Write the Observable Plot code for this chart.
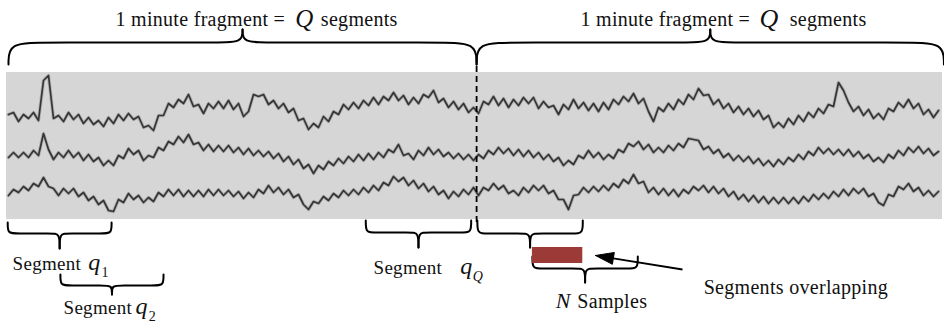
<!DOCTYPE html>
<html><head><meta charset="utf-8">
<script src="https://cdn.jsdelivr.net/npm/d3@7"></script>
<script src="https://cdn.jsdelivr.net/npm/@observablehq/plot@0.6"></script>
<style>html,body{margin:0;padding:0;background:#fff}#chart svg{display:block}</style>
</head><body><div id="chart"></div>
<script>
// ---- EEG signal (3 channels, 2 minutes, deflection in display units, negative = up) ----
const channel1 = [4,2,11,4,8,2,10,-30,-35,8,5,11,2,9,4,13,7,14,10,16,7,13,4,10,3,9,6,17,15,20,5,5,-7,-3,-11,-7,-16,-4,-6,3,-7,-2,-9,-2,-10,-1,-7,6,1,-16,-14,-16,-6,-10,-2,-7,2,-2,10,8,19,13,17,6,11,1,4,-6,-1,-8,-2,-10,-5,-13,-6,-14,-10,-18,-10,-15,-6,-13,-7,-16,-13,-20,-8,-12,-3,-9,-1,-7,2,-3,3,-9,-6,-14,-5,-12,-3,-11,-5,-13,-7,-13,-2,-9,-3,-5,4,-6,-1,-11,-2,-8,0,-7,1,-8,-1,-11,-6,-14,-9,-17,-7,-12,1,11,-3,1,-7,-1,-11,-6,-16,-11,-22,-15,-16,-6,-11,-2,-7,2,-4,4,-2,6,0,9,5,17,12,17,8,14,5,11,2,7,-2,3,-6,-4,-28,-20,-8,1,-4,5,-1,8,3,9,-2,1,-8,-3,-11,-2,-7,4,-1,7,0];
const channel2 = [2,-3,2,-3,2,-5,0,-22,-6,4,-3,2,-5,2,-3,5,-1,6,2,10,5,10,0,3,-7,-1,-5,5,0,2,-8,-5,-14,-11,-19,-13,-21,-11,-13,-5,-11,-4,-10,-4,-10,-3,-8,-1,-7,0,-5,1,-4,3,-2,6,1,9,4,13,9,18,10,14,6,10,3,8,1,6,-1,5,-2,4,-3,2,-6,-3,-11,0,-2,4,-5,0,-8,-1,-6,1,-3,3,-2,4,-1,5,-1,3,-5,-1,-8,-2,-7,0,-6,1,-5,2,-3,4,-1,6,2,10,5,9,0,3,-5,2,-3,4,-1,3,-6,-3,-12,-9,-14,-6,-11,-3,-8,-3,-10,-5,-12,-8,-17,-16,-15,-6,-9,-2,-6,2,-2,5,0,6,1,8,3,10,5,11,4,9,2,6,-1,4,-4,0,-8,-2,-7,-1,-6,0,-6,1,-4,3,-1,6,2,7,-1,3,-5,0,-8,-3,-9,-2,-7,0,-4];
const channel3 = [2,-4,-1,-7,-3,-10,-7,-16,-7,-5,2,-5,0,-5,3,-1,7,3,11,7,17,18,6,9,0,6,2,9,4,8,-1,3,-4,2,-4,3,-3,3,-3,3,-4,2,-4,2,-3,3,-2,5,-1,4,-4,0,-8,-1,-6,1,-4,4,1,11,16,8,10,3,7,0,4,-3,2,-4,1,-6,-1,-8,-3,-11,-8,-17,-12,-16,-8,-13,-5,-10,-2,-7,1,-3,5,-2,3,-4,1,-6,2,-6,-3,-10,-4,-8,0,-3,2,-6,-1,-8,-3,-8,0,-3,6,6,16,2,1,-6,-1,-7,-2,-8,-3,-10,-6,-14,-10,-19,-10,-12,-1,-6,1,-5,2,-4,3,-4,0,-7,-3,-8,-1,-7,0,-5,3,-2,6,1,8,2,9,3,10,4,10,4,10,4,10,3,8,1,6,0,5,-2,3,-4,2,-5,0,-5,3,0,9,12,1,3,-7,-4,-10,-2,-6,2,-3,3,-2];
const channels = [channel1, channel2, channel3];
const channelBaseline = [110, 155, 193];
const recordSeconds = 120;      // two 1-minute fragments
const fragmentBoundary = 60.4;  // seconds

// ---- annotation layout (x in seconds, y in layout units) ----
const boxStart = -0.26, boxEnd = 120.52, boxTop = 72, boxBottom = 219;
const braceName  = ["frag1","frag2","q1","q2","qQ","next","N"];
const braceStart = [0, 60.4, -0.1, 6.7, 46.1, 60.5, 67.6];
const braceEnd   = [60.4, 120.7, 13.3, 20.0, 59.7, 74.1, 81.2];
const braceEndY  = [64, 64, 222, 274, 220, 220, 256];
const braceMidY  = [42, 42, 233, 285, 232, 233, 268];
const braceTipY  = [29, 29, 248, 294, 247, 247, 282];
const braceEndR  = [4.8, 4.8, 1.0, 1.0, 1.0, 1.0, 1.0];
const braceTipR  = [3.4, 3.4, 1.0, 1.0, 1.0, 1.0, 1.0];
const windowSpan = [67.6, 74.1]; const windowY = [247, 263];
const arrowFrom = [86.97, 269], arrowTo = [78.04, 257.9];
const arrowHead = [[75.74,255],[78.17,252.0],[77.92,263.8],[75.74,255]];

const uprightLabels = [
  {t: 13.8, y: 25, s: "1 minute fragment =", size: 20},
  {t: 40.3, y: 25, s: "segments", size: 20},
  {t: 73.8, y: 25, s: "1 minute fragment =", size: 20},
  {t: 100.8, y: 25, s: "segments", size: 20},
  {t: 0.52, y: 269, s: "Segment", size: 19},
  {t: 7.1, y: 313, s: "Segment", size: 19},
  {t: 47.1, y: 273, s: "Segment", size: 19},
  {t: 73.4, y: 307, s: "Samples", size: 20},
  {t: 89.7, y: 293, s: "Segments overlapping", size: 20},
  {t: 12.0, y: 276, s: "1", size: 14},
  {t: 18.1, y: 320, s: "2", size: 14}
];
const italicLabels = [
  {t: 37.0, y: 26, s: "Q", size: 25},
  {t: 96.9, y: 26, s: "Q", size: 26},
  {t: 10.3, y: 269, s: "q", size: 24},
  {t: 16.4, y: 313, s: "q", size: 24},
  {t: 58.3, y: 273, s: "q", size: 24},
  {t: 59.9, y: 280, s: "Q", size: 14},
  {t: 70.6, y: 307, s: "N", size: 22}
];

// ---- build mark data ----
const signal = [];
channels.forEach((vals, ch) => {
  const dt = recordSeconds / (vals.length - 1);
  vals.forEach((v, i) => signal.push({t: i * dt, y: channelBaseline[ch] + v, ch}));
});
const bracePts = [];
braceName.forEach((name, k) => {
  const x1 = braceStart[k], x2 = braceEnd[k], xc = (x1 + x2) / 2;
  const e = braceEndY[k], m = braceMidY[k], tip = braceTipY[k];
  const r1 = braceEndR[k], r2 = braceTipR[k];
  const left = [[x1,e],[x1,m],[x1+r1,m],[xc-r2,m],[xc,m],[xc,tip]];
  const right = [[x2,e],[x2,m],[x2-r1,m],[xc+r2,m],[xc,m],[xc,tip]];
  left.forEach(p => bracePts.push({x: p[0], y: p[1], id: name + "L"}));
  right.forEach(p => bracePts.push({x: p[0], y: p[1], id: name + "R"}));
});

const W = 944, H = 326;
const pxPerSec = 7.75, x0px = 8;
const chart = Plot.plot({
  width: W, height: H, margin: 0,
  style: {fontFamily: "'Liberation Serif', serif", letterSpacing: "0.3px", background: "#fff"},
  x: {domain: [-x0px / pxPerSec, (W - x0px) / pxPerSec], range: [0, W], axis: null},
  y: {domain: [0, H], range: [0, H], axis: null},
  marks: [
    Plot.rect([{x1: boxStart, x2: boxEnd, y1: boxTop, y2: boxBottom}], {x1: "x1", x2: "x2", y1: "y1", y2: "y2", fill: "#d6d6d6"}),
    Plot.line(signal, {x: "t", y: "y", z: "ch", stroke: "#333", strokeWidth: 3.4, strokeOpacity: 0.22, strokeLinejoin: "round"}),
    Plot.line(signal, {x: "t", y: "y", z: "ch", stroke: "#2a2a2a", strokeWidth: 1.7, strokeOpacity: 0.92, strokeLinejoin: "round"}),
    Plot.ruleX([fragmentBoundary], {y1: 56, y2: 223, stroke: "#000", strokeWidth: 1.8, strokeDasharray: "6,4"}),
    Plot.line(bracePts, {x: "x", y: "y", z: "id", curve: "basis", stroke: "#000", strokeWidth: 2}),
    Plot.rect([{x1: windowSpan[0], x2: windowSpan[1], y1: windowY[0], y2: windowY[1]}], {x1: "x1", x2: "x2", y1: "y1", y2: "y2", fill: "#9b3a36"}),
    Plot.link([{x1: arrowFrom[0], y1: arrowFrom[1], x2: arrowTo[0], y2: arrowTo[1]}], {x1: "x1", y1: "y1", x2: "x2", y2: "y2", stroke: "#000", strokeWidth: 1.8}),
    Plot.line(arrowHead, {x: d => d[0], y: d => d[1], fill: "#000", stroke: "#000", strokeWidth: 1}),
    Plot.text(uprightLabels, {x: "t", y: "y", text: "s", fontSize: "size", textAnchor: "start", lineAnchor: "bottom", fill: "#111", fontFamily: "Liberation Serif"}),
    Plot.text(italicLabels, {x: "t", y: "y", text: "s", fontSize: "size", textAnchor: "start", lineAnchor: "bottom", fill: "#111", fontStyle: "italic", fontFamily: "Liberation Serif"})
  ]
});
document.getElementById("chart").appendChild(chart);
</script>
</body></html>
